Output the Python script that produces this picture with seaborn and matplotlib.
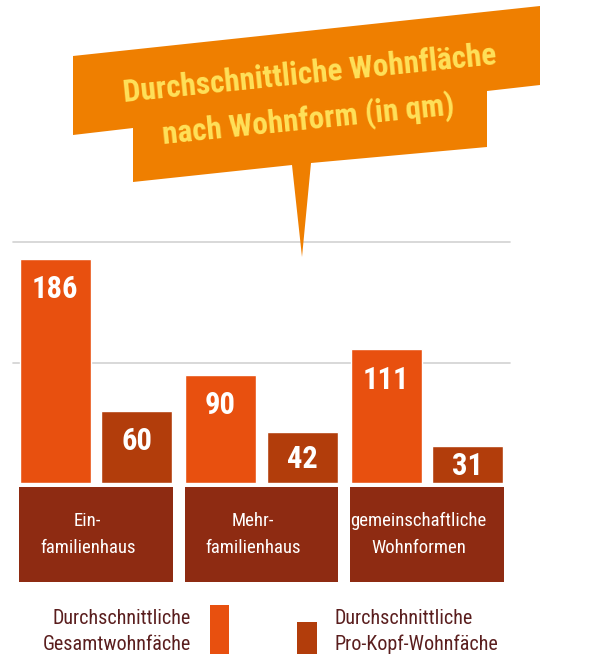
import pandas as pd
import matplotlib
matplotlib.use("Agg")
import matplotlib.pyplot as plt
from matplotlib.patches import Polygon, Rectangle
import seaborn as sns

# Data
wohnformen = ["Ein-\nfamilienhaus", "Mehr-\nfamilienhaus", "gemeinschaftliche\nWohnformen"]
gesamt = [186, 90, 111]
pro_kopf = [60, 42, 31]
serien = ["Durchschnittliche\nGesamtwohnfäche", "Durchschnittliche\nPro-Kopf-Wohnfäche"]
grid_werte = [100, 200]

df = pd.DataFrame({
    "Wohnform": wohnformen * 2,
    "Art": [serien[0]] * 3 + [serien[1]] * 3,
    "qm": gesamt + pro_kopf,
})

# Colours
c_gesamt = "#E8500F"
c_kopf = "#B23D0B"
c_box = "#8E2B12"
c_bubble = "#EF7F00"
c_title = "#FFE15A"
c_legend = "#5A1E1E"

sns.set_theme(style="white")
plt.rcParams["font.family"] = ["Roboto Condensed", "Liberation Sans Narrow", "DejaVu Sans"]

W, H = 600, 669
fig = plt.figure(figsize=(6, 6.69), dpi=100)


def fx(x):
    return x / W


def fy(y):
    return 1 - y / H


# Main bar axes: baseline at pixel 483, value 200 at pixel 242
ax = fig.add_axes([fx(13.25), fy(483), fx(509.75) - fx(13.25), fy(242) - fy(483)])
sns.barplot(data=df, x="Wohnform", y="qm", hue="Art", palette=[c_gesamt, c_kopf],
            width=0.99, gap=0.134, saturation=1, legend=False, ax=ax, zorder=3)
ax.set_xlim(-0.5, 2.5)
ax.set_ylim(0, 200)
for g in grid_werte:
    ax.axhline(g, color="#D2D2D2", lw=1.2, zorder=1, clip_on=False)
ax.set_axis_off()

# Value labels inside bar tops (points per data unit for short bars)
pt_per_unit = (241 / 200) * 72 / 100
for bar in ax.patches:
    h = bar.get_height()
    if h <= 0:
        continue
    off = min(22, h * pt_per_unit / 2 + 1)
    ax.annotate(f"{h:.0f}", (bar.get_x() + bar.get_width() / 2, h),
                xytext=(0, -off), textcoords="offset points",
                ha="center", va="center", color="white",
                fontsize=22, fontweight="bold", zorder=4)

# Category boxes below the bars
ax_cat = fig.add_axes([fx(13.25), fy(582), fx(509.75) - fx(13.25), fy(487) - fy(582)])
ax_cat.set_xlim(-0.5, 2.5)
ax_cat.set_ylim(0, 1)
ax_cat.set_axis_off()
for i, name in enumerate(wohnformen):
    ax_cat.add_patch(Rectangle((i - 0.465, 0), 0.93, 1, color=c_box, lw=0))
    ax_cat.text(i - 0.05, 0.5, name, ha="center", va="center", color="white",
                fontsize=13.5, linespacing=1.65)

# Title speech bubble
pts = [(73, 56), (540, 6), (540, 85), (487, 91), (487, 147), (311, 163),
       (302, 257), (292, 165), (133, 182), (133, 128), (73, 135)]
fig.patches.append(Polygon([(fx(x), fy(y)) for x, y in pts], closed=True,
                           transform=fig.transFigure, color=c_bubble, lw=0, zorder=5))
fig.text(fx(310), fy(74), "Durchschnittliche Wohnfläche", ha="center", va="center",
         rotation=5.8, rotation_mode="anchor", color=c_title, fontsize=22.5,
         fontweight="bold", zorder=6)
fig.text(fx(308), fy(120), "nach Wohnform (in qm)", ha="center", va="center",
         rotation=5.8, rotation_mode="anchor", color=c_title, fontsize=22.5,
         fontweight="bold", zorder=6)

# Legend
fig.patches.append(Rectangle((fx(210), fy(654)), fx(19), fy(605) - fy(654),
                             transform=fig.transFigure, color=c_gesamt, lw=0))
fig.patches.append(Rectangle((fx(297), fy(654)), fx(20), fy(622) - fy(654),
                             transform=fig.transFigure, color=c_kopf, lw=0))
fig.text(fx(191), fy(631.5), serien[0], ha="right", va="center", color=c_legend,
         fontsize=14.5, linespacing=1.45)
fig.text(fx(334), fy(631.5), serien[1], ha="left", va="center", color=c_legend,
         fontsize=14.5, linespacing=1.45)

fig.savefig("out.png", dpi=100, facecolor="white")
